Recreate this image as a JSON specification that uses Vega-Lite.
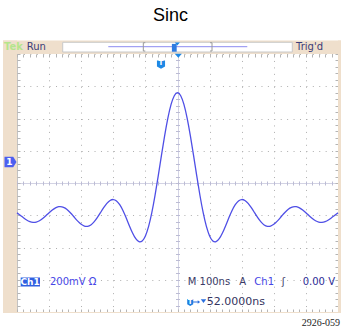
{
  "$schema": "https://vega.github.io/schema/vega-lite/v6.json",
  "width": 321,
  "height": 258,
  "autosize": {"type": "none"},
  "padding": {"left": 17, "top": 54, "right": 3, "bottom": 19},
  "background": "white",
  "title": {"text": "Sinc", "font": "Liberation Sans", "fontSize": 18, "fontWeight": "normal", "color": "#000000", "anchor": "middle", "frame": "group", "dx": -7, "offset": 15},
  "datasets": {
    "frame": [
      {"t": -543.6, "t2": 509.3, "v": 800, "v2": 884},
      {"t": -543.6, "t2": -500, "v": -806.2, "v2": 884},
      {"t": 500, "t2": 509.3, "v": -806.2, "v2": 884},
      {"t": -543.6, "t2": 509.3, "v": -806.2, "v2": -800}
    ],
    "topbox": [{"t": -357.6, "t2": 357.6, "v": 812.4, "v2": 872.6}],
    "toplines": [
      {"t": -215.6, "t2": 217.4, "v": 845.3, "v2": 845.3, "part": "track"},
      {"t": -106.5, "t2": -106.5, "v": 818.6, "v2": 870, "part": "bracket"},
      {"t": -106.5, "t2": -100.3, "v": 870, "v2": 870, "part": "bracket"},
      {"t": -106.5, "t2": -100.3, "v": 818.6, "v2": 818.6, "part": "bracket"},
      {"t": 107.5, "t2": 107.5, "v": 818.6, "v2": 870, "part": "bracket"},
      {"t": 101.3, "t2": 107.5, "v": 870, "v2": 870, "part": "bracket"},
      {"t": 101.3, "t2": 107.5, "v": 818.6, "v2": 818.6, "part": "bracket"}
    ],
    "trace": [
      {"t": -500, "v": -185.3}, {"t": -490, "v": -200.1}, {"t": -480, "v": -215.6}, {"t": -470, "v": -229.3},
      {"t": -460, "v": -239.3}, {"t": -450, "v": -243.9}, {"t": -440, "v": -242.1}, {"t": -430, "v": -233.9},
      {"t": -420, "v": -220.3}, {"t": -410, "v": -203.0}, {"t": -400, "v": -184.3}, {"t": -390, "v": -167.1},
      {"t": -380, "v": -153.8}, {"t": -370, "v": -146.8}, {"t": -360, "v": -147.4}, {"t": -350, "v": -155.9},
      {"t": -340, "v": -171.6}, {"t": -330, "v": -192.5}, {"t": -320, "v": -215.8}, {"t": -310, "v": -238.2},
      {"t": -300, "v": -256.4}, {"t": -290, "v": -267.3}, {"t": -280, "v": -268.8}, {"t": -270, "v": -260.0},
      {"t": -260, "v": -241.4}, {"t": -250, "v": -215.0}, {"t": -240, "v": -184.2}, {"t": -230, "v": -153.0},
      {"t": -220, "v": -126.3}, {"t": -210, "v": -108.2}, {"t": -200, "v": -102.5}, {"t": -190, "v": -111.1},
      {"t": -180, "v": -134.4}, {"t": -170, "v": -170.6}, {"t": -160, "v": -215.9}, {"t": -150, "v": -264.7},
      {"t": -140, "v": -310.4}, {"t": -130, "v": -345.7}, {"t": -120, "v": -363.9}, {"t": -110, "v": -359.2},
      {"t": -100, "v": -328.0}, {"t": -90, "v": -269.1}, {"t": -80, "v": -184.1}, {"t": -70, "v": -77.4},
      {"t": -60, "v": 43.9}, {"t": -50, "v": 170.9}, {"t": -40, "v": 293.7}, {"t": -30, "v": 402.2},
      {"t": -20, "v": 487.2}, {"t": -10, "v": 541.4}, {"t": 0, "v": 560.0},
      {"t": 10, "v": 541.4}, {"t": 20, "v": 487.2}, {"t": 30, "v": 402.2}, {"t": 40, "v": 293.7},
      {"t": 50, "v": 170.9}, {"t": 60, "v": 43.9}, {"t": 70, "v": -77.4}, {"t": 80, "v": -184.1},
      {"t": 90, "v": -269.1}, {"t": 100, "v": -328.0}, {"t": 110, "v": -359.2}, {"t": 120, "v": -363.9},
      {"t": 130, "v": -345.7}, {"t": 140, "v": -310.4}, {"t": 150, "v": -264.7}, {"t": 160, "v": -215.9},
      {"t": 170, "v": -170.6}, {"t": 180, "v": -134.4}, {"t": 190, "v": -111.1}, {"t": 200, "v": -102.5},
      {"t": 210, "v": -108.2}, {"t": 220, "v": -126.3}, {"t": 230, "v": -153.0}, {"t": 240, "v": -184.2},
      {"t": 250, "v": -215.0}, {"t": 260, "v": -241.4}, {"t": 270, "v": -260.0}, {"t": 280, "v": -268.8},
      {"t": 290, "v": -267.3}, {"t": 300, "v": -256.4}, {"t": 310, "v": -238.2}, {"t": 320, "v": -215.8},
      {"t": 330, "v": -192.5}, {"t": 340, "v": -171.6}, {"t": 350, "v": -155.9}, {"t": 360, "v": -147.4},
      {"t": 370, "v": -146.8}, {"t": 380, "v": -153.8}, {"t": 390, "v": -167.1}, {"t": 400, "v": -184.3},
      {"t": 410, "v": -203.0}, {"t": 420, "v": -220.3}, {"t": 430, "v": -233.9}, {"t": 440, "v": -242.1},
      {"t": 450, "v": -243.9}, {"t": 460, "v": -239.3}, {"t": 470, "v": -229.3}, {"t": 480, "v": -215.6},
      {"t": 490, "v": -200.1}, {"t": 500, "v": -185.3}
    ],
    "badge": [{"t": -488.5, "t2": -428.3, "v": -641.9, "v2": -586}],
    "markers": [
      {"t": -520.2, "v": 130, "kind": "ground"},
      {"t": -51.4, "v": 734.9, "kind": "trig"},
      {"t": 2.5, "v": 789.5, "kind": "level"},
      {"t": -0.6, "v": 862, "kind": "levelsmall"},
      {"t": -10, "v": 838.4, "kind": "view"},
      {"t": 39.6, "v": -741, "kind": "trigsmall"},
      {"t": 59.2, "v": -738, "kind": "arrow"},
      {"t": 81, "v": -731.8, "kind": "tri2"}
    ],
    "labels": [
      {"t": -469.8, "v": 845.3, "text": "Run", "tone": "navy"},
      {"t": 369.2, "v": 845.3, "text": "Trig'd", "tone": "navy"},
      {"t": -397.2, "v": -614, "text": "200mV Ω", "tone": "blue"},
      {"t": 31.8, "v": -614, "text": "M 100ns", "tone": "dark"},
      {"t": 192.5, "v": -614, "text": "A", "tone": "dark"},
      {"t": 239.3, "v": -614, "text": "Ch1", "tone": "blue"},
      {"t": 324.6, "v": -614, "text": "ʃ", "tone": "dark"},
      {"t": 390, "v": -614, "text": "0.00 V", "tone": "navyblue"}
    ],
    "readout": [{"t": 91, "v": -741, "text": "52.0000ns"}],
    "tek": [{"t": -540.5, "v": 845.3, "text": "Tek"}],
    "whites": [
      {"t": -459.2, "v": -614, "text": "Ch1"},
      {"t": -523.4, "v": 130, "text": "1"}
    ],
    "whitesT": [
      {"t": -51.4, "v": 742, "text": "T"},
      {"t": 39.6, "v": -739, "text": "T"}
    ],
    "footer": [{"t": 506.2, "v": -866.4, "text": "2926-059"}]
  },
  "layer": [
    {
      "data": {"name": "frame"},
      "mark": {"type": "rect", "color": "#efdfcc"},
      "encoding": {
        "x": {"field": "t", "type": "quantitative", "scale": {"domain": [-500, 500], "nice": false, "zero": false},
          "axis": {"title": null, "orient": "bottom", "grid": true, "ticks": false, "labels": false, "domain": false,
            "values": [-500, -400, -300, -200, -100, 0, 100, 200, 300, 400, 500],
            "gridDash": {"condition": {"test": "datum.value === 0 || abs(datum.value) === 500", "value": [1, 0]}, "value": [1, 5.45]},
            "gridColor": {"condition": {"test": "datum.value === 0", "value": "#c4c4da"}, "value": "#aeaeae"},
            "gridOpacity": 1, "gridWidth": 1}},
        "x2": {"field": "t2"},
        "y": {"field": "v", "type": "quantitative", "scale": {"domain": [-800, 800], "nice": false, "zero": false},
          "axis": {"title": null, "orient": "left", "grid": true, "ticks": false, "labels": false, "domain": false,
            "values": [-800, -600, -400, -200, 0, 200, 400, 600, 800],
            "gridDash": {"condition": {"test": "datum.value === 0 || datum.value === -800", "value": [1, 0]}, "value": [1, 5.42]},
            "gridColor": {"condition": {"test": "datum.value === 0", "value": "#c4c4da"}, "value": "#aeaeae"},
            "gridOpacity": 1, "gridWidth": 1}},
        "y2": {"field": "v2"}
      }
    },
    {
      "data": {"name": "topbox"},
      "mark": {"type": "rect", "fill": "#ffffff", "stroke": "#c8c8c8", "strokeWidth": 1},
      "encoding": {
        "x": {"field": "t", "type": "quantitative", "scale": {"domain": [-500, 500], "nice": false, "zero": false},
          "axis": {"title": null, "orient": "top", "offset": -3, "grid": false, "ticks": true, "tickSize": 3, "tickColor": "#b4b4b4", "labels": false, "domain": false,
            "values": [-500,-480,-460,-440,-420,-400,-380,-360,-340,-320,-300,-280,-260,-240,-220,-200,-180,-160,-140,-120,-100,-80,-60,-40,-20,0,20,40,60,80,100,120,140,160,180,200,220,240,260,280,300,320,340,360,380,400,420,440,460,480,500]}},
        "x2": {"field": "t2"},
        "y": {"field": "v", "type": "quantitative", "scale": {"domain": [-800, 800], "nice": false, "zero": false},
          "axis": {"title": null, "orient": "right", "offset": -3, "grid": false, "ticks": true, "tickSize": 3, "tickColor": "#b4b4b4", "labels": false, "domain": false,
            "values": [-800,-760,-720,-680,-640,-600,-560,-520,-480,-440,-400,-360,-320,-280,-240,-200,-160,-120,-80,-40,0,40,80,120,160,200,240,280,320,360,400,440,480,520,560,600,640,680,720,760,800]}},
        "y2": {"field": "v2"}
      }
    },
    {
      "data": {"name": "toplines"},
      "mark": {"type": "rule", "strokeWidth": 1},
      "encoding": {
        "x": {"field": "t", "type": "quantitative", "scale": {"domain": [-500, 500], "nice": false, "zero": false}, "axis": null},
        "x2": {"field": "t2"},
        "y": {"field": "v", "type": "quantitative", "scale": {"domain": [-800, 800], "nice": false, "zero": false}, "axis": null},
        "y2": {"field": "v2"},
        "color": {"field": "part", "type": "nominal", "scale": {"domain": ["track", "bracket"], "range": ["#8c8cf0", "#9a9a9a"]}, "legend": null}
      }
    },
    {
      "data": {"name": "trace"},
      "mark": {"type": "line", "interpolate": "natural", "color": "#4f4fe6", "strokeWidth": 1.3},
      "encoding": {
        "x": {"field": "t", "type": "quantitative", "scale": {"domain": [-500, 500], "nice": false, "zero": false},
          "axis": {"title": null, "orient": "bottom", "offset": -3, "grid": false, "ticks": true, "tickSize": 3, "tickColor": "#b4b4b4", "labels": false, "domain": false,
            "values": [-500,-480,-460,-440,-420,-400,-380,-360,-340,-320,-300,-280,-260,-240,-220,-200,-180,-160,-140,-120,-100,-80,-60,-40,-20,0,20,40,60,80,100,120,140,160,180,200,220,240,260,280,300,320,340,360,380,400,420,440,460,480,500]}},
        "y": {"field": "v", "type": "quantitative", "scale": {"domain": [-800, 800], "nice": false, "zero": false},
          "axis": {"title": null, "orient": "left", "offset": -3, "grid": false, "ticks": true, "tickSize": 3, "tickColor": "#b4b4b4", "labels": false, "domain": false,
            "values": [-800,-760,-720,-680,-640,-600,-560,-520,-480,-440,-400,-360,-320,-280,-240,-200,-160,-120,-80,-40,0,40,80,120,160,200,240,280,320,360,400,440,480,520,560,600,640,680,720,760,800]}}
      }
    },
    {
      "data": {"name": "badge"},
      "mark": {"type": "rect", "color": "#3060e0"},
      "encoding": {
        "x": {"field": "t", "type": "quantitative", "scale": {"domain": [-500, 500], "nice": false, "zero": false}, "axis": null},
        "x2": {"field": "t2"},
        "y": {"field": "v", "type": "quantitative", "scale": {"domain": [-800, 800], "nice": false, "zero": false}, "axis": null},
        "y2": {"field": "v2"}
      }
    },
    {
      "data": {"name": "markers"},
      "mark": {"type": "point", "filled": true, "opacity": 1, "size": 36, "strokeWidth": 0},
      "encoding": {
        "x": {"field": "t", "type": "quantitative", "scale": {"domain": [-500, 500], "nice": false, "zero": false},
          "axis": {"title": null, "orient": "bottom", "offset": -131, "grid": false, "ticks": true, "tickSize": 4, "tickColor": "#bcbcd4", "labels": false, "domain": false,
            "values": [-500,-480,-460,-440,-420,-400,-380,-360,-340,-320,-300,-280,-260,-240,-220,-200,-180,-160,-140,-120,-100,-80,-60,-40,-20,0,20,40,60,80,100,120,140,160,180,200,220,240,260,280,300,320,340,360,380,400,420,440,460,480,500]}},
        "y": {"field": "v", "type": "quantitative", "scale": {"domain": [-800, 800], "nice": false, "zero": false},
          "axis": {"title": null, "orient": "left", "offset": -162.5, "grid": false, "ticks": true, "tickSize": 4, "tickColor": "#bcbcd4", "labels": false, "domain": false,
            "values": [-800,-760,-720,-680,-640,-600,-560,-520,-480,-440,-400,-360,-320,-280,-240,-200,-160,-120,-80,-40,0,40,80,120,160,200,240,280,320,360,400,440,480,520,560,600,640,680,720,760,800]}},
        "shape": {"field": "kind", "type": "nominal", "legend": null,
          "scale": {"domain": ["ground", "trig", "trigsmall", "level", "levelsmall", "view", "arrow", "tri2"],
            "range": [
              "M-2,-1.75L0.9,-1.75L2,0L0.9,1.75L-2,1.75Z",
              "M-1.35,-1.35L1.35,-1.35L1.35,0.7L0,1.4L-1.35,0.7Z",
              "M-1,-1.15L1,-1.15L1,0.6L0,1.15L-1,0.6Z",
              "M-1.2,-0.65L1.2,-0.65L0,0.7Z",
              "M-0.85,-0.5L0.85,-0.5L0,0.5Z",
              "M-0.8,-1.3L0.8,-1.3L0.8,1.3L-0.8,1.3Z",
              "M-1.2,-0.15L0.4,-0.15L0.4,-0.6L1.2,0L0.4,0.6L0.4,0.15L-1.2,0.15Z",
              "M-0.9,-0.6L0.9,-0.6L0,0.7Z"
            ]}},
        "color": {"field": "kind", "type": "nominal", "legend": null,
          "scale": {"domain": ["ground", "trig", "trigsmall", "level", "levelsmall", "view", "arrow", "tri2"],
            "range": ["#4d5ff0", "#1e88e5", "#1e7fe0", "#1e88e5", "#1e88e5", "#2f7be0", "#2a6fe0", "#2a6fe0"]}}
      }
    },
    {
      "data": {"name": "labels"},
      "mark": {"type": "text", "font": "DejaVu Sans", "fontSize": 10, "align": "left", "baseline": "middle"},
      "encoding": {
        "x": {"field": "t", "type": "quantitative", "scale": {"domain": [-500, 500], "nice": false, "zero": false}, "axis": null},
        "y": {"field": "v", "type": "quantitative", "scale": {"domain": [-800, 800], "nice": false, "zero": false}, "axis": null},
        "text": {"field": "text"},
        "color": {"field": "tone", "type": "nominal", "legend": null,
          "scale": {"domain": ["navy", "blue", "dark", "navyblue"], "range": ["#3c3c78", "#4646e6", "#3a3a66", "#2c2c96"]}}
      }
    },
    {
      "data": {"name": "readout"},
      "mark": {"type": "text", "font": "DejaVu Sans", "fontSize": 11, "align": "left", "baseline": "middle", "color": "#33335e"},
      "encoding": {
        "x": {"field": "t", "type": "quantitative", "scale": {"domain": [-500, 500], "nice": false, "zero": false}, "axis": null},
        "y": {"field": "v", "type": "quantitative", "scale": {"domain": [-800, 800], "nice": false, "zero": false}, "axis": null},
        "text": {"field": "text"}
      }
    },
    {
      "data": {"name": "tek"},
      "mark": {"type": "text", "font": "DejaVu Sans", "fontSize": 10, "fontWeight": "bold", "align": "left", "baseline": "middle", "color": "#b5e58c"},
      "encoding": {
        "x": {"field": "t", "type": "quantitative", "scale": {"domain": [-500, 500], "nice": false, "zero": false}, "axis": null},
        "y": {"field": "v", "type": "quantitative", "scale": {"domain": [-800, 800], "nice": false, "zero": false}, "axis": null},
        "text": {"field": "text"}
      }
    },
    {
      "data": {"name": "whites"},
      "mark": {"type": "text", "font": "DejaVu Sans", "fontSize": 9, "fontWeight": "bold", "align": "center", "baseline": "middle", "color": "#ffffff"},
      "encoding": {
        "x": {"field": "t", "type": "quantitative", "scale": {"domain": [-500, 500], "nice": false, "zero": false}, "axis": null},
        "y": {"field": "v", "type": "quantitative", "scale": {"domain": [-800, 800], "nice": false, "zero": false}, "axis": null},
        "text": {"field": "text"}
      }
    },
    {
      "data": {"name": "whitesT"},
      "mark": {"type": "text", "font": "DejaVu Sans", "fontSize": 7, "fontWeight": "bold", "align": "center", "baseline": "middle", "color": "#ffffff"},
      "encoding": {
        "x": {"field": "t", "type": "quantitative", "scale": {"domain": [-500, 500], "nice": false, "zero": false}, "axis": null},
        "y": {"field": "v", "type": "quantitative", "scale": {"domain": [-800, 800], "nice": false, "zero": false}, "axis": null},
        "text": {"field": "text"}
      }
    },
    {
      "data": {"name": "footer"},
      "mark": {"type": "text", "font": "Liberation Sans Narrow", "fontSize": 10, "align": "right", "baseline": "middle", "color": "#222222"},
      "encoding": {
        "x": {"field": "t", "type": "quantitative", "scale": {"domain": [-500, 500], "nice": false, "zero": false}, "axis": null},
        "y": {"field": "v", "type": "quantitative", "scale": {"domain": [-800, 800], "nice": false, "zero": false}, "axis": null},
        "text": {"field": "text"}
      }
    }
  ],
  "resolve": {
    "axis": {"x": "independent", "y": "independent"},
    "scale": {"color": "independent", "shape": "independent"}
  },
  "config": {
    "view": {"stroke": null},
    "axis": {"labels": false, "domain": false, "ticks": false, "grid": false}
  }
}
